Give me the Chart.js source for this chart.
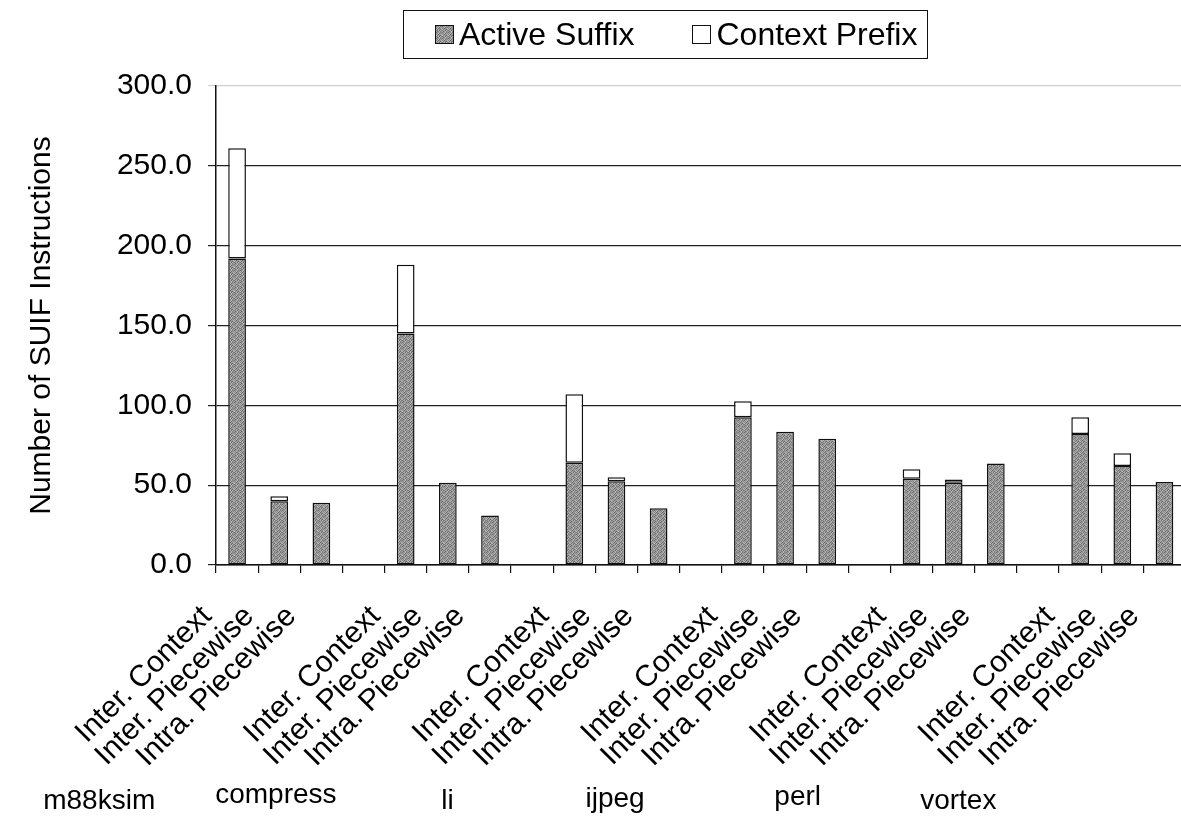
<!DOCTYPE html>
<html lang="en">
<head>
  <meta charset="UTF-8">
  <title>Number of SUIF Instructions</title>
  <script src="https://cdn.jsdelivr.net/npm/chart.js"></script>
  <style>
    html, body { margin: 0; padding: 0; background: #fff; overflow: hidden; }
    #wrap { position: relative; width: 1216px; height: 829px; }
    canvas { display: block; }
    #legend {
      position: absolute; left: 403px; top: 10px; height: 49px;
      box-sizing: border-box;
      border: 1.5px solid #111;
      display: flex; align-items: center;
      padding: 0 10px 0 31px;
      font-family: 'Liberation Sans', Arial, sans-serif; font-size: 32px; color: #000;
      white-space: nowrap;
    }
    #legend .item { display: flex; align-items: center; }
    #legend .item + .item { margin-left: 58px; }
    #legend .sw { width: 17px; height: 17px; border: 1.5px solid #111; margin-right: 5px; }
  </style>
</head>
<body>
  <div id="wrap">
    <canvas id="suifChart" width="1216" height="829"></canvas>
    <div id="legend"></div>
  </div>

  <script>
    // benchmarks and the three variants shown for each
    const groups = ['m88ksim', 'compress', 'li', 'ijpeg', 'perl', 'vortex'];
    const methods = ['Inter. Context', 'Inter. Piecewise', 'Intra. Piecewise'];

    // values, 3 per benchmark in the order of methods
    const activeSuffix  = [192, 40, 39,  145, 51.5, 31,  64, 52.5, 35.5,  92.5, 83.5, 79,  54, 51.5, 63.5,  82, 62, 52];
    const contextPrefix = [69, 3, 0,     43, 0, 0,       43, 2.5, 0,      10, 0, 0,        6, 2, 0,          10.5, 8, 0];

    const yTicks = [0, 50, 100, 150, 200, 250, 300];

    // one empty category between benchmarks
    const labels = [];
    const suffixData = [];
    const prefixData = [];
    groups.forEach((g, gi) => {
      if (gi > 0) { labels.push(''); suffixData.push(null); prefixData.push(null); }
      methods.forEach((m, mi) => {
        const k = gi * methods.length + mi;
        labels.push(m);
        suffixData.push(activeSuffix[k]);
        prefixData.push(contextPrefix[k] > 0 ? contextPrefix[k] : null);
      });
    });

    // speckled grey like the printed original
    const tile = document.createElement('canvas');
    tile.width = 6; tile.height = 6;
    (function () {
      const p = tile.getContext('2d');
      const tones = [
        [0x68, 0xa0, 0x90, 0xb4, 0x78, 0x98],
        [0xac, 0x80, 0xbc, 0x6c, 0xa4, 0x84],
        [0x88, 0xb4, 0x64, 0x9c, 0x90, 0xb8],
        [0xbc, 0x74, 0xa4, 0x88, 0x70, 0xa0],
        [0x7c, 0x98, 0xb0, 0x68, 0xb4, 0x80],
        [0xa4, 0x6c, 0x8c, 0xb8, 0x84, 0x94]
      ];
      for (let y = 0; y < 6; y++) {
        for (let x = 0; x < 6; x++) {
          const t = tones[y][x];
          p.fillStyle = `rgb(${t},${t},${t})`;
          p.fillRect(x, y, 1, 1);
        }
      }
    })();

    const FONT = "'Liberation Sans', Arial, sans-serif";

    // benchmark names under the rotated labels
    const nameShift = [-180, -172, -169, -170, -156, -164];
    const nameY = [801, 795, 801, 799, 797, 801];
    const groupNames = {
      id: 'groupNames',
      afterDraw(chart) {
        const xs = chart.scales.x;
        const ctx = chart.ctx;
        ctx.save();
        ctx.font = `28px ${FONT}`;
        ctx.fillStyle = '#000';
        ctx.textAlign = 'center';
        ctx.textBaseline = 'middle';
        groups.forEach((g, gi) => {
          const mid = gi * (methods.length + 1) + 1;
          ctx.fillText(g, xs.getPixelForValue(mid) + nameShift[gi], nameY[gi]);
        });
        ctx.restore();
      }
    };

    const ctx = document.getElementById('suifChart').getContext('2d');
    const pattern = ctx.createPattern(tile, 'repeat');

    const chart = new Chart(ctx, {
      type: 'bar',
      data: {
        labels: labels,
        datasets: [
          {
            label: 'Active Suffix',
            data: suffixData,
            backgroundColor: pattern,
            borderColor: '#111',
            borderWidth: 1.5,
            borderSkipped: false,
            barPercentage: 0.42,
            categoryPercentage: 1.0
          },
          {
            label: 'Context Prefix',
            data: prefixData,
            backgroundColor: '#ffffff',
            borderColor: '#111',
            borderWidth: 1.5,
            borderSkipped: false,
            barPercentage: 0.42,
            categoryPercentage: 1.0
          }
        ]
      },
      options: {
        responsive: false,
        animation: false,
        devicePixelRatio: 1,
        layout: { padding: { top: 86, right: 4, bottom: 0, left: 0 } },
        plugins: {
          legend: { display: false },
          tooltip: { enabled: false }
        },
        scales: {
          x: {
            stacked: true,
            offset: true,
            grid: {
              offset: true,
              drawOnChartArea: false,
              drawTicks: true,
              tickLength: 8,
              color: '#111',
              lineWidth: 1.2
            },
            border: { display: true, color: '#111', width: 1.5 },
            ticks: {
              autoSkip: false,
              maxRotation: 45,
              minRotation: 45,
              labelOffset: -30,
              padding: 26,
              color: '#000',
              font: { family: FONT, size: 30 }
            },
            afterFit(scale) { scale.height = 264; }
          },
          y: {
            stacked: true,
            min: 0,
            max: 300,
            afterBuildTicks(scale) { scale.ticks = yTicks.map(v => ({ value: v })); },
            grid: {
              color: c => c.tick && c.tick.value === 300 ? '#d0d0d0' : '#222',
              lineWidth: 1.2,
              drawTicks: true,
              tickLength: 8
            },
            border: { display: true, color: '#111', width: 1.5 },
            ticks: {
              padding: 16,
              color: '#000',
              font: { family: FONT, size: 30 },
              callback: v => Number(v).toFixed(1)
            },
            title: {
              display: true,
              text: 'Number of SUIF Instructions',
              color: '#000',
              font: { family: FONT, size: 30 },
              padding: { top: 24, bottom: 0 }
            },
            afterFit(scale) { scale.width = 216; }
          }
        }
      },
      plugins: [groupNames]
    });

    // boxed legend built from the datasets
    const legend = document.getElementById('legend');
    const tileUrl = tile.toDataURL();
    chart.data.datasets.forEach((ds, i) => {
      const item = document.createElement('div');
      item.className = 'item';
      const sw = document.createElement('span');
      sw.className = 'sw';
      sw.style.background = i === 0 ? `url(${tileUrl})` : ds.backgroundColor;
      const tx = document.createElement('span');
      tx.textContent = ds.label;
      item.appendChild(sw);
      item.appendChild(tx);
      legend.appendChild(item);
    });
  </script>
</body>
</html>
